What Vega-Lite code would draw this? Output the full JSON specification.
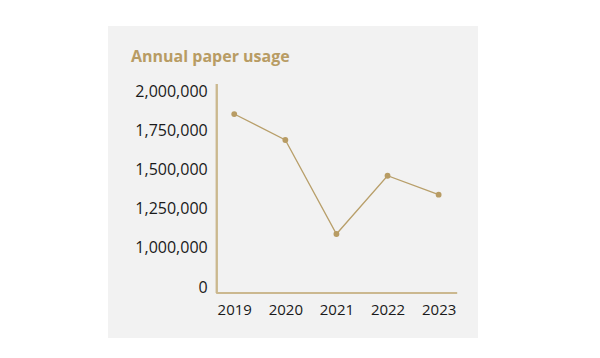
{
  "$schema": "https://vega.github.io/schema/vega-lite/v6.json",
  "autosize": {"type": "none"},
  "width": 370,
  "height": 312,
  "padding": {"left": 108, "top": 26, "right": 122, "bottom": 20},
  "background": "#ffffff",
  "config": {
    "view": {"fill": "#f2f2f2", "stroke": null},
    "font": "Open Sans"
  },
  "title": {
    "text": "Annual paper usage",
    "anchor": "start",
    "frame": "group",
    "orient": "top",
    "baseline": "alphabetic",
    "offset": -36,
    "dy": 16,
    "dx": 23,
    "font": "Open Sans",
    "fontSize": 16,
    "fontWeight": "bold",
    "color": "#b89c64"
  },
  "data": {
    "values": [
      {"year": 2019, "usage": 1857000},
      {"year": 2020, "usage": 1691000},
      {"year": 2021, "usage": 1089000},
      {"year": 2022, "usage": 1462000},
      {"year": 2023, "usage": 1341000}
    ]
  },
  "layer": [
    {
      "mark": {"type": "rule", "color": "#cbb88f", "strokeWidth": 1.5},
      "encoding": {
        "x": {"datum": 2018.656, "type": "quantitative", "title": null},
        "y": {"datum": 711600, "type": "quantitative", "title": null},
        "y2": {"datum": 2049300}
      }
    },
    {
      "mark": {"type": "rule", "color": "#cbb88f", "strokeWidth": 1.5},
      "encoding": {
        "x": {"datum": 2018.656, "type": "quantitative", "title": null},
        "x2": {"datum": 2023.36},
        "y": {"datum": 711600, "type": "quantitative", "title": null}
      }
    },
    {
      "mark": {"type": "line", "color": "#b89f6a", "strokeWidth": 1.3},
      "encoding": {
        "x": {
          "field": "year",
          "type": "quantitative",
          "scale": {"domain": [2016.53, 2023.77], "nice": false, "zero": false},
          "axis": {
            "values": [2019, 2020, 2021, 2022, 2023],
            "format": "d",
            "domain": false,
            "ticks": false,
            "grid": false,
            "offset": -45,
            "labelPadding": 9,
            "labelFont": "Open Sans",
            "labelFontSize": 15,
            "labelColor": "#1a1a1a",
            "labelFlush": false,
            "title": null
          }
        },
        "y": {
          "field": "usage",
          "type": "quantitative",
          "scale": {"domain": [423600, 2420500], "nice": false, "zero": false},
          "axis": {
            "values": [750000, 1000000, 1250000, 1500000, 1750000, 2000000],
            "labelExpr": "datum.value == 750000 ? '0' : format(datum.value, ',')",
            "domain": false,
            "ticks": false,
            "grid": false,
            "offset": -108.7,
            "labelPadding": 9.5,
            "labelFont": "Open Sans",
            "labelFontSize": 16,
            "labelColor": "#1a1a1a",
            "labelFlush": false,
            "title": null
          }
        }
      }
    },
    {
      "mark": {"type": "point", "filled": true, "color": "#b89c64", "size": 34, "opacity": 1},
      "encoding": {
        "x": {"field": "year", "type": "quantitative"},
        "y": {"field": "usage", "type": "quantitative"}
      }
    }
  ]
}
